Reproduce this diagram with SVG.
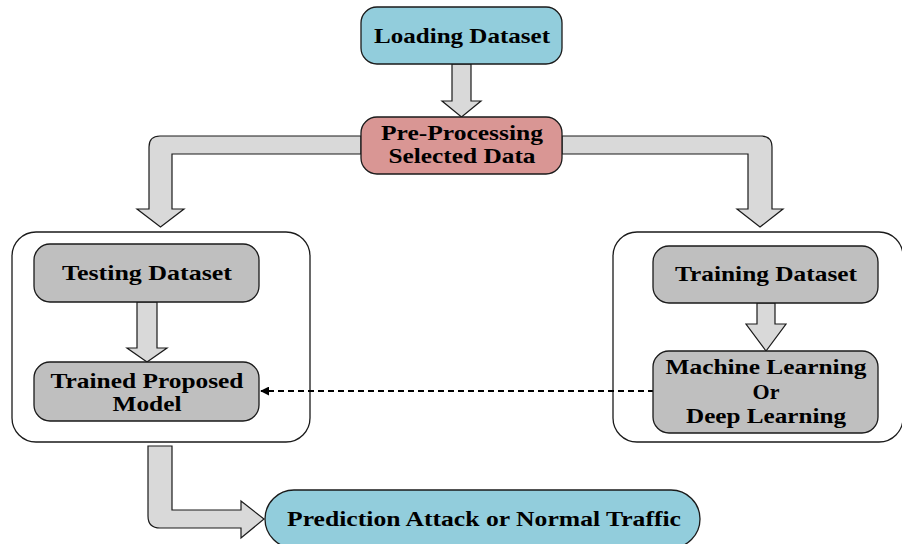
<svg xmlns="http://www.w3.org/2000/svg" width="902" height="544" viewBox="0 0 902 544">
<style>
.box{stroke:#1a1a1a;stroke-width:1.3}
.blue{fill:#92CDDC}
.pink{fill:#D99694}
.gray{fill:#BFBFBF}
.cont{fill:#ffffff;stroke:#1a1a1a;stroke-width:1.3}
.arr{fill:#D9D9D9;stroke:#1a1a1a;stroke-width:1.2;stroke-linejoin:miter}
text{font-family:"Liberation Serif","Times New Roman",serif;font-weight:bold;font-size:22px;fill:#000;text-anchor:middle}
</style>
<defs>
<marker id="ah" viewBox="0 0 10 10" refX="9" refY="5" markerWidth="9" markerHeight="9" markerUnits="userSpaceOnUse" orient="auto">
<path d="M0,0 L10,5 L0,10 Z" fill="#000"/>
</marker>
</defs>
<g id="containers">
<rect id="left-container" class="cont" x="12" y="232" width="298" height="210" rx="24"/>
<rect id="right-container" class="cont" x="613" y="232" width="290" height="210" rx="24"/>
</g>
<g id="connectors">
<path class="arr" d="M452,64 L471,64 L471,101 L481,101 L461.5,117 L442,101 L452,101 Z"/>
<path class="arr" d="M361,136 L160,136 Q149,136 149,147 L149,209 L137,209 L160.5,227 L184,209 L172,209 L172,154 L361,154 Z"/>
<path class="arr" d="M562,136 L761,136 Q772,136 772,147 L772,209 L783,209 L760,227 L737,209 L748,209 L748,154 L562,154 Z"/>
<path class="arr" d="M137,302 L157,302 L157,348 L167,348 L147,362 L127,348 L137,348 Z"/>
<path class="arr" d="M757,303 L775,303 L775,324 L786,324 L766,351 L746,324 L757,324 Z"/>
<path class="arr" d="M148,446 L172,446 L172,510 L241,510 L241,501 L264,519 L241,538 L241,528 L160,528 Q148,528 148,516 Z"/>
<line x1="654" y1="391" x2="261" y2="391" stroke="#000" stroke-width="2" stroke-dasharray="6,4" marker-end="url(#ah)"/>
</g>
<g id="loading">
<rect class="box blue" x="361" y="7" width="201" height="57" rx="16"/>
<text x="462" y="43" textLength="176" lengthAdjust="spacingAndGlyphs">Loading Dataset</text>
</g>
<g id="preprocessing">
<rect class="box pink" x="361" y="117" width="201" height="57" rx="16"/>
<text x="462" y="140" textLength="162" lengthAdjust="spacingAndGlyphs">Pre-Processing</text>
<text x="462" y="163" textLength="147" lengthAdjust="spacingAndGlyphs">Selected Data</text>
</g>
<g id="testing">
<rect class="box gray" x="34" y="244" width="225" height="58" rx="16"/>
<text x="147" y="280" textLength="170" lengthAdjust="spacingAndGlyphs">Testing Dataset</text>
</g>
<g id="trained">
<rect class="box gray" x="34" y="362" width="225" height="59" rx="16"/>
<text x="147" y="388" textLength="193" lengthAdjust="spacingAndGlyphs">Trained Proposed</text>
<text x="147" y="411" textLength="69" lengthAdjust="spacingAndGlyphs">Model</text>
</g>
<g id="training">
<rect class="box gray" x="653" y="246" width="225" height="57" rx="16"/>
<text x="766" y="281" textLength="182" lengthAdjust="spacingAndGlyphs">Training Dataset</text>
</g>
<g id="ml">
<rect class="box gray" x="653" y="351" width="225" height="82" rx="16"/>
<text x="766" y="374" textLength="201" lengthAdjust="spacingAndGlyphs">Machine Learning</text>
<text x="766" y="399">Or</text>
<text x="766" y="423" textLength="160" lengthAdjust="spacingAndGlyphs">Deep Learning</text>
</g>
<g id="prediction">
<rect class="box blue" x="265" y="490" width="435" height="58" rx="29"/>
<text x="484" y="526" textLength="394" lengthAdjust="spacingAndGlyphs">Prediction Attack or Normal Traffic</text>
</g>
</svg>
